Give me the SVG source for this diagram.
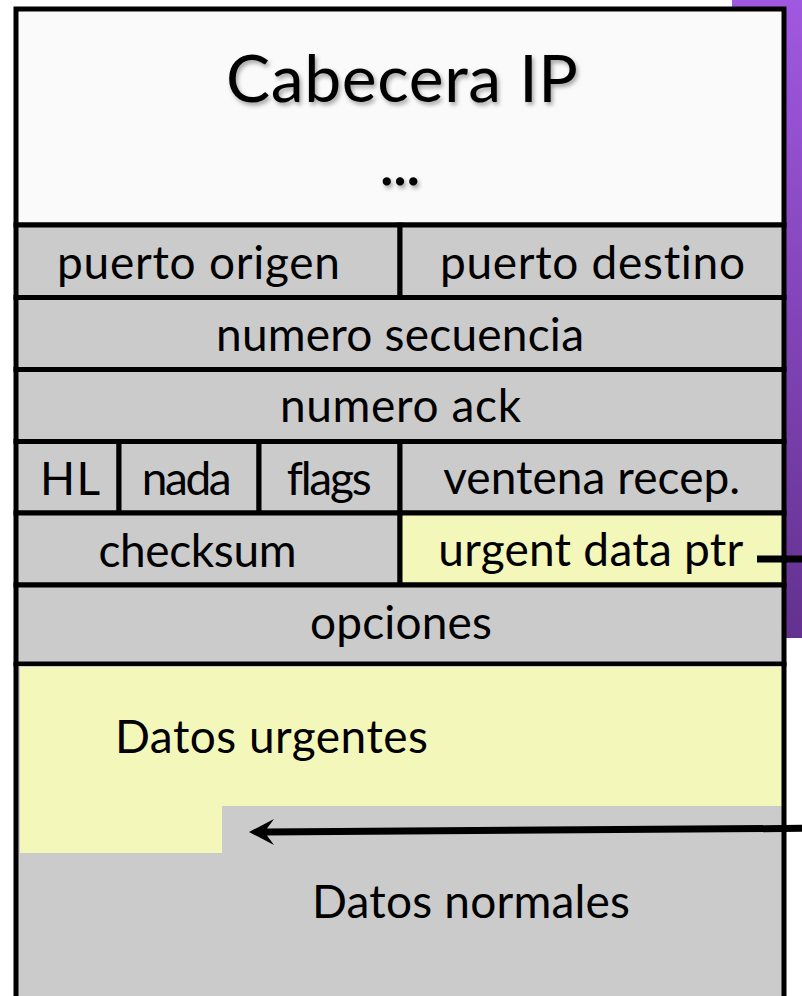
<svg xmlns="http://www.w3.org/2000/svg" width="802" height="996" viewBox="0 0 802 996">
<defs>
<linearGradient id="purple" x1="0" y1="0" x2="0" y2="1">
<stop offset="0" stop-color="#a058e0"/>
<stop offset="1" stop-color="#63318f"/>
</linearGradient>
<filter id="shadow" x="-10%" y="-20%" width="120%" height="150%">
<feDropShadow dx="2" dy="3" stdDeviation="2" flood-color="#000" flood-opacity="0.35"/>
</filter>
<style>
.cell{stroke:#000;stroke-width:5}
.gray{fill:#cbcbcb}
.yellow{fill:#f4f7ba}
.white{fill:#fafafa}
.t{font-family:"Lato","Open Sans","DejaVu Sans",sans-serif;font-size:46px;fill:#000;text-anchor:middle;font-variant-ligatures:none}
.big{font-size:66px}
.border{stroke:#000;stroke-width:5;fill:none}
.conn{stroke:#000;stroke-width:7;fill:none}
</style>
</defs>
<rect width="802" height="996" fill="#ffffff"/>
<rect x="732" y="0" width="70" height="638" fill="url(#purple)"/>

<g id="cabecera-ip">
<rect class="cell white" x="16" y="9" width="768" height="216"/>
<text class="t big" x="402" y="102" textLength="352" filter="url(#shadow)">Cabecera IP</text>
<text class="t big" x="400" y="185" textLength="42" filter="url(#shadow)">...</text>
</g>

<g id="puerto-origen">
<rect class="cell gray" x="16" y="225" width="384" height="72.5"/>
<text class="t" x="198.5" y="279" textLength="283">puerto origen</text>
</g>
<g id="puerto-destino">
<rect class="cell gray" x="400" y="225" width="384" height="72.5"/>
<text class="t" x="592.5" y="279" textLength="305">puerto destino</text>
</g>
<g id="numero-secuencia">
<rect class="cell gray" x="16" y="297.5" width="768" height="72"/>
<text class="t" x="400" y="351" textLength="368">numero secuencia</text>
</g>
<g id="numero-ack">
<rect class="cell gray" x="16" y="369.5" width="768" height="72"/>
<text class="t" x="400.5" y="422" textLength="241">numero ack</text>
</g>
<g id="hl">
<rect class="cell gray" x="16" y="441.5" width="103" height="71.5"/>
<text class="t" x="70" y="495" textLength="60">HL</text>
</g>
<g id="nada">
<rect class="cell gray" x="119" y="441.5" width="140" height="71.5"/>
<text class="t" x="186.7" y="495" textLength="90">nada</text>
</g>
<g id="flags">
<rect class="cell gray" x="259" y="441.5" width="141" height="71.5"/>
<text class="t" x="329.2" y="495" textLength="85">flags</text>
</g>
<g id="ventena-recep">
<rect class="cell gray" x="400" y="441.5" width="384" height="71.5"/>
<text class="t" x="591.7" y="494" textLength="297">ventena recep.</text>
</g>
<g id="checksum">
<rect class="cell gray" x="16" y="513" width="384" height="72"/>
<text class="t" x="197.5" y="567" textLength="198">checksum</text>
</g>
<g id="urgent-data-ptr">
<rect class="cell yellow" x="400" y="513" width="384" height="72"/>
<text class="t" x="590.8" y="566" textLength="305">urgent data ptr</text>
</g>
<g id="opciones">
<rect class="cell gray" x="16" y="585" width="768" height="79"/>
<text class="t" x="401" y="639" textLength="182">opciones</text>
</g>

<g id="datos">
<rect class="gray" x="18" y="666" width="764" height="330"/>
<rect class="yellow" x="20" y="667" width="762" height="139"/>
<rect class="yellow" x="20" y="806" width="202" height="47"/>
<line class="border" x1="16" y1="662" x2="16" y2="996"/>
<line class="border" x1="784" y1="662" x2="784" y2="996"/>
</g>
<g id="datos-urgentes">
<text class="t" x="271.5" y="753" textLength="313">Datos urgentes</text>
</g>
<g id="datos-normales">
<text class="t" x="471" y="918" textLength="318">Datos normales</text>
</g>

<g id="connectors">
<line class="conn" x1="757" y1="559" x2="810" y2="559"/>
<line class="conn" x1="810" y1="828.3" x2="266" y2="832"/>
<polygon points="249,832 274,819 267,828.5 267,835.5 274,845" fill="#000"/>
</g>
</svg>
